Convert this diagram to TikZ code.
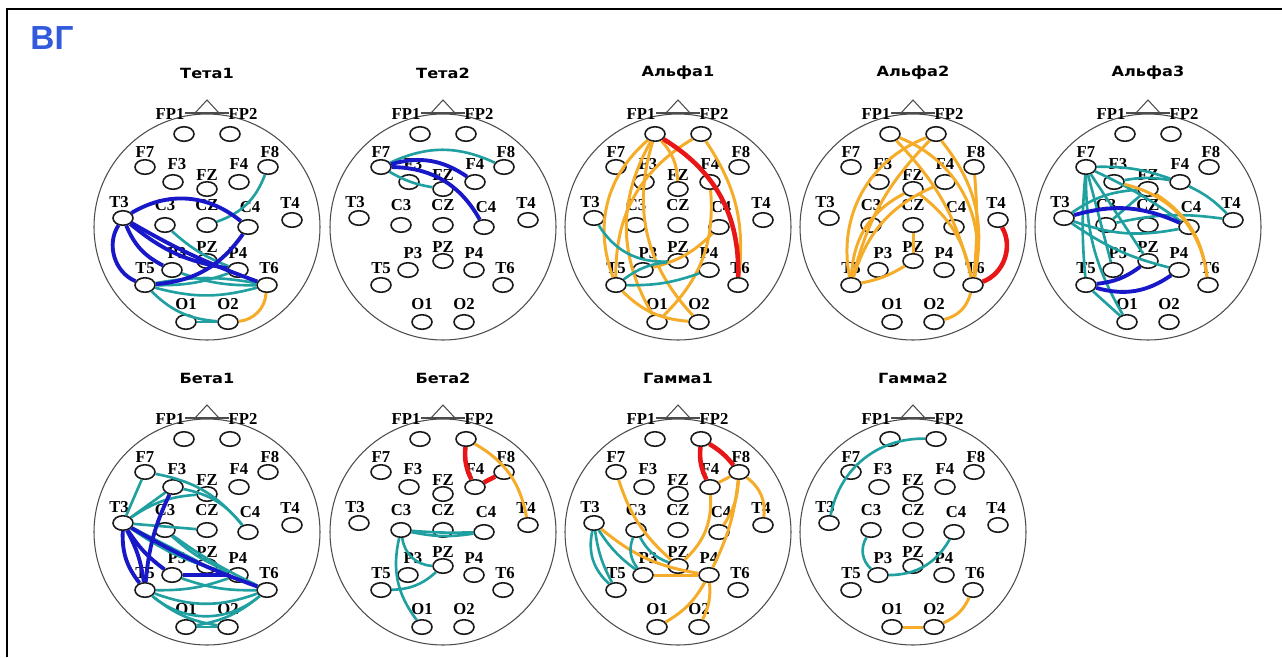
\documentclass[tikz,border=0pt]{standalone}
\usepackage{fontspec}
\setmainfont{Liberation Serif}
\newfontfamily\titlefont[FakeStretch=1.15]{DejaVu Sans}
\newfontfamily\vgfont{Liberation Sans}
\usetikzlibrary{shapes.geometric}

\definecolor{eegblue}{RGB}{24,24,200}
\definecolor{eegteal}{RGB}{32,160,160}
\definecolor{eegorange}{RGB}{245,172,40}
\definecolor{eegred}{RGB}{232,22,22}
\definecolor{vgblue}{RGB}{50,90,220}

% one head: #1 prefix, #2 x, #3 y, #4 title
\newcommand{\eeghead}[4]{%
  \begin{scope}[shift={(#2,#3)}]
    \draw[headline] (0,0) circle[radius=113];
    \draw[headline] (-22,-114) -- (22,-114);
    \draw[headline] (-12,-114) -- (0,-127) -- (12,-114);
    \node[headtitle] (#1_title) at (0,-154) {#4};
    \foreach \el/\px/\py/\lx/\ly in {FP1/-23/-93/-14/-20, FP2/23/-93/13/-20,
        F7/-62/-60/0/-15, F3/-34/-45/4/-18, FZ/0/-38/0/-14, F4/32/-45/0/-18,
        F8/61/-60/2/-15, T3/-84/-9/-4/-16, C3/-42/-2/0/-20, CZ/0/-2/0/-20,
        C4/41/0/2/-20, T4/85/-7/-2/-17, P3/-35/43/5/-17, PZ/0/34/0/-14,
        P4/31/43/0/-17, T5/-62/58/0/-17, T6/60/58/2/-17, O1/-21/95/0/-18,
        O2/21/95/0/-18}{
      \node[electrode] (#1_\el) at (\px,\py) {};
      \node[elabel] (#1_\el_lbl) at (\px+\lx,\py+\ly) {\el};
    }
  \end{scope}}

\begin{document}
\begin{tikzpicture}[
    x=0.02cm, y=-0.02cm,
    headline/.style  = {draw=black!70, line width=0.6pt},
    electrode/.style = {ellipse, draw=black!90, line width=0.9pt, fill=white,
                        minimum width=0.4cm, minimum height=0.29cm, inner sep=0pt},
    elabel/.style    = {inner sep=0pt, font=\bfseries\fontsize{9.5}{10}\selectfont},
    headtitle/.style = {inner sep=0pt, font=\titlefont\bfseries\fontsize{8}{9}\selectfont},
    blu/.style = {draw=eegblue, line width=2.2pt},
    tea/.style = {draw=eegteal, line width=1.5pt},
    ora/.style = {draw=eegorange, line width=1.7pt},
    rd/.style  = {draw=eegred, line width=2.6pt},
  ]
  \useasboundingbox (0,0) rectangle (1282,657);
  \draw[line width=1.6pt] (7,657) -- (7,9) -- (1282,9);
  \node[text=vgblue, font=\vgfont\bfseries\fontsize{19}{20}\selectfont] (vg) at (52,38) {ВГ};

  \eeghead{ta1}{207}{227}{Тета1}
  \eeghead{ta2}{443}{227}{Тета2}
  \eeghead{al1}{678}{227}{Альфа1}
  \eeghead{al2}{913}{227}{Альфа2}
  \eeghead{al3}{1148}{227}{Альфа3}
  \eeghead{be1}{207}{532}{Бета1}
  \eeghead{be2}{443}{532}{Бета2}
  \eeghead{ga1}{678}{532}{Гамма1}
  \eeghead{ga2}{913}{532}{Гамма2}

  % Тета1
  \draw[tea] (ta1_F8) to[bend left=25] (ta1_CZ);
  \draw[tea] (ta1_C3) to[bend right=10] (ta1_P4);
  \draw[tea] (ta1_T5) to[bend right=15] (ta1_T6);
  \draw[tea] (ta1_T5) to[bend left=10] (ta1_T6);
  \draw[tea] (ta1_T5) to[bend right=10] (ta1_P4);
  \draw[tea] (ta1_T5) to[bend right=20] (ta1_O2);
  \draw[tea] (ta1_P3) to[bend right=10] (ta1_T6);
  \draw[tea] (ta1_O1) -- (ta1_O2);
  \draw[blu] (ta1_T3) to[bend left=35] (ta1_C4);
  \draw[blu] (ta1_T3) to[bend right=5] (ta1_T6);
  \draw[blu] (ta1_T3) to[bend right=50] (ta1_T5);
  \draw[blu] (ta1_T3) to[bend right=20] (ta1_P3);
  \draw[blu] (ta1_T3) to[bend right=15] (ta1_P4);
  \draw[blu] (ta1_C4) to[bend left=25] (ta1_T5);
  \draw[ora] (ta1_O2) to[bend right=40] (ta1_T6);

  % Тета2
  \draw[tea] (ta2_F7) to[bend left=25] (ta2_F8);
  \draw[tea] (ta2_F7) to[bend right=10] (ta2_FZ);
  \draw[blu] (ta2_F7) to[bend left=30] (ta2_C4);
  \draw[blu] (ta2_F7) to[bend left=25] (ta2_F4);

  % Альфа1
  \draw[ora] (al1_FP2) to[bend left=20] (al1_T6);
  \draw[ora] (al1_FP1) to[bend right=35] (al1_T5);
  \draw[ora] (al1_FP2) to[bend right=30] (al1_T5);
  \draw[ora] (al1_FP1) to[bend right=30] (al1_O1);
  \draw[ora] (al1_FP1) to[bend right=30] (al1_O2);
  \draw[ora] (al1_FP1) to[bend left=20] (al1_FZ);
  \draw[ora] (al1_C4) to[bend left=15] (al1_P3);
  \draw[ora] (al1_F4) to[bend left=25] (al1_O1);
  \draw[ora] (al1_T5) to[bend right=20] (al1_O2);
  \draw[tea] (al1_T3) to[bend right=30] (al1_PZ);
  \draw[tea] (al1_T5) to[bend left=15] (al1_PZ);
  \draw[tea] (al1_T5) to[bend right=10] (al1_P4);
  \draw[rd] (al1_FP1) to[bend left=30] (al1_T6);

  % Альфа2
  \draw[ora] (al2_T5) to[bend left=40] (al2_FP2);
  \draw[ora] (al2_FP1) to[bend left=40] (al2_T6);
  \draw[ora] (al2_FP1) to[bend left=15] (al2_T6);
  \draw[ora] (al2_FP2) to[bend right=15] (al2_T5);
  \draw[ora] (al2_FZ) to[bend right=30] (al2_T5);
  \draw[ora] (al2_FZ) to[bend left=20] (al2_T6);
  \draw[ora] (al2_F4) to[bend right=25] (al2_T5);
  \draw[ora] (al2_PZ) to[bend left=10] (al2_T5);
  \draw[ora] (al2_CZ) -- (al2_PZ);
  \draw[ora] (al2_O2) to[bend right=30] (al2_T6);
  \draw[ora] (al2_F8) to[bend left=5] (al2_T6);
  \draw[ora] (al2_FP2) to[bend left=25] (al2_T6);
  \draw[rd] (al2_T4) to[bend left=50] (al2_T6);

  % Альфа3
  \draw[tea] (al3_F7) to[bend left=10] (al3_F4);
  \draw[tea] (al3_F7) to[bend left=5] (al3_C4);
  \draw[tea] (al3_F7) to[bend right=5] (al3_T5);
  \draw[tea] (al3_F7) -- (al3_P3);
  \draw[tea] (al3_F7) -- (al3_PZ);
  \draw[tea] (al3_F7) to[bend right=15] (al3_O1);
  \draw[tea] (al3_T3) to[bend left=15] (al3_FZ);
  \draw[tea] (al3_T3) to[bend right=10] (al3_P4);
  \draw[tea] (al3_T3) to[bend right=15] (al3_C4);
  \draw[tea] (al3_C3) to[bend left=10] (al3_T4);
  \draw[tea] (al3_F4) to[bend left=10] (al3_T4);
  \draw[tea] (al3_FZ) -- (al3_C3);
  \draw[tea] (al3_T5) -- (al3_O1);
  \draw[tea] (al3_F3) to[bend left=10] (al3_F4);
  \draw[ora] (al3_F3) to[bend left=35] (al3_T6);
  \draw[ora] (al3_FZ) to[bend left=25] (al3_T6);
  \draw[blu] (al3_T3) to[bend left=20] (al3_C4);
  \draw[blu] (al3_T5) to[bend right=15] (al3_PZ);
  \draw[blu] (al3_T5) to[bend right=25] (al3_P4);

  % Бета1
  \draw[tea] (be1_F7) to[bend left=20] (be1_C4);
  \draw[tea] (be1_F3) to[bend left=20] (be1_C4);
  \draw[tea] (be1_F3) -- (be1_T3);
  \draw[tea] (be1_FZ) to[bend right=15] (be1_T3);
  \draw[tea] (be1_F7) -- (be1_T3);
  \draw[tea] (be1_T3) to[bend right=10] (be1_P4);
  \draw[tea] (be1_T3) -- (be1_PZ);
  \draw[tea] (be1_T3) -- (be1_CZ);
  \draw[tea] (be1_C3) to[bend right=5] (be1_T6);
  \draw[tea] (be1_C3) to[bend right=10] (be1_P4);
  \draw[tea] (be1_T5) to[bend right=20] (be1_T6);
  \draw[tea] (be1_T5) to[bend right=40] (be1_T6);
  \draw[tea] (be1_T5) to[bend right=15] (be1_O2);
  \draw[tea] (be1_O1) to[bend right=15] (be1_T6);
  \draw[tea] (be1_O1) -- (be1_O2);
  \draw[tea] (be1_P3) to[bend right=10] (be1_T6);
  \draw[tea] (be1_T5) to[bend right=10] (be1_P4);
  \draw[blu] (be1_T3) to[bend right=20] (be1_T5);
  \draw[blu] (be1_T3) to[bend left=10] (be1_T5);
  \draw[blu] (be1_T3) to[bend right=5] (be1_T6);
  \draw[blu] (be1_T3) to[bend right=10] (be1_P3);
  \draw[blu] (be1_P3) -- (be1_P4);
  \draw[blu] (be1_F3) to[bend right=10] (be1_T5);

  % Бета2
  \draw[ora] (be2_FP2) to[bend left=25] (be2_T4);
  \draw[tea] (be2_C3) to[bend right=10] (be2_C4);
  \draw[tea] (be2_C3) to[bend right=3] (be2_C4);
  \draw[tea] (be2_C3) to[bend right=40] (be2_PZ);
  \draw[tea] (be2_C3) to[bend right=25] (be2_O1);
  \draw[tea] (be2_T5) to[bend right=20] (be2_PZ);
  \draw[rd] (be2_FP2) to[bend right=15] (be2_F4);
  \draw[rd] (be2_F4) -- (be2_F8);

  % Гамма1
  \draw[ora] (ga1_F7) to[bend right=15] (ga1_PZ);
  \draw[ora] (ga1_T3) to[bend right=15] (ga1_P4);
  \draw[ora] (ga1_F4) to[bend left=25] (ga1_PZ);
  \draw[ora] (ga1_F8) to[bend left=30] (ga1_T4);
  \draw[ora] (ga1_F8) to[bend left=10] (ga1_P4);
  \draw[ora] (ga1_C4) to[bend right=15] (ga1_F8);
  \draw[ora] (ga1_P4) to[bend left=15] (ga1_O1);
  \draw[ora] (ga1_P4) to[bend left=15] (ga1_O2);
  \draw[ora] (ga1_P3) -- (ga1_P4);
  \draw[ora] (ga1_F4) -- (ga1_F8);
  \draw[tea] (ga1_T3) to[bend right=30] (ga1_T5);
  \draw[tea] (ga1_T3) to[bend right=10] (ga1_T5);
  \draw[tea] (ga1_T3) to[bend right=10] (ga1_P3);
  \draw[tea] (ga1_C3) to[bend right=30] (ga1_P3);
  \draw[tea] (ga1_C3) to[bend right=20] (ga1_PZ);
  \draw[rd] (ga1_FP2) to[bend right=15] (ga1_F4);
  \draw[rd] (ga1_FP2) to[bend left=10] (ga1_F8);

  % Гамма2
  \draw[tea] (ga2_FP2) to[bend right=40] (ga2_T3);
  \draw[tea] (ga2_C3) to[bend right=40] (ga2_P3);
  \draw[tea] (ga2_P3) to[bend right=30] (ga2_C4);
  \draw[ora] (ga2_T6) to[bend left=20] (ga2_O2);
  \draw[ora] (ga2_O1) -- (ga2_O2);
\end{tikzpicture}
\end{document}
